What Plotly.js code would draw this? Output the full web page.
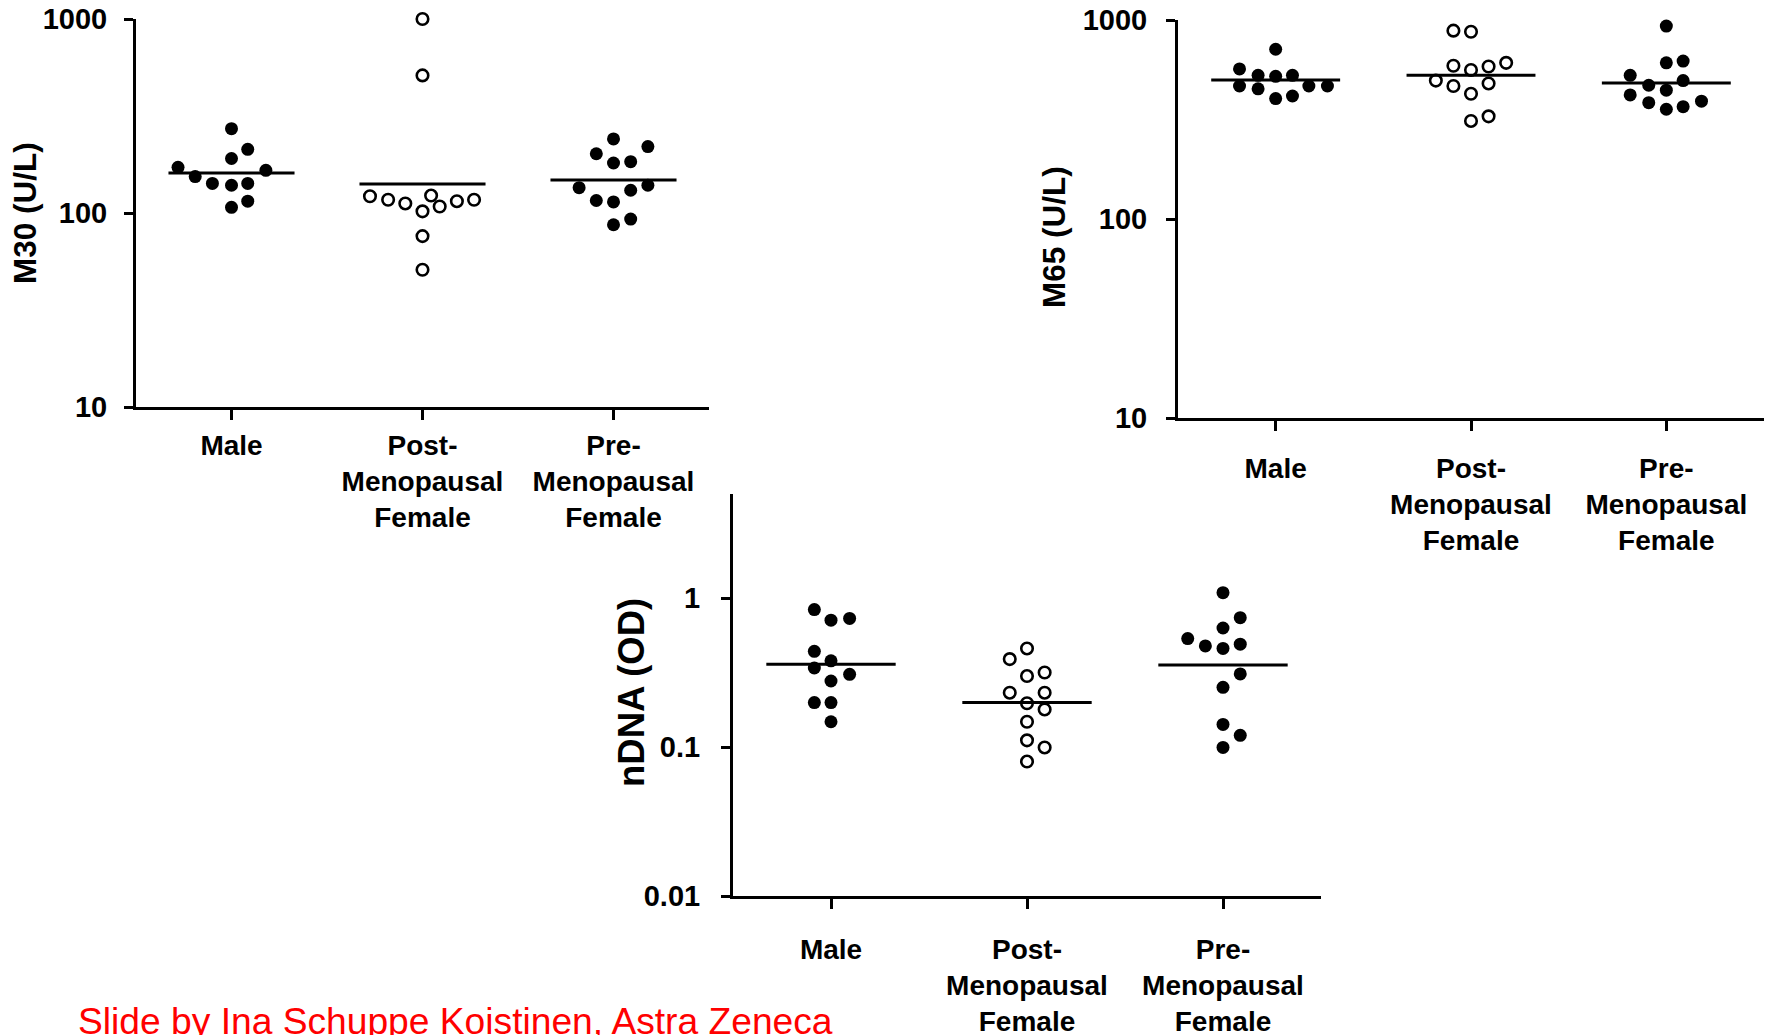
<!DOCTYPE html>
<html>
<head>
<meta charset="utf-8">
<script src="https://cdn.plot.ly/plotly-3.0.1.min.js"></script>
<style>html,body{margin:0;padding:0;background:#fff;}#chart{width:1773px;height:1035px;}</style>
</head>
<body>
<div id="chart"></div>
<script>
// ---- data ----
const categories = ["Male", "Post-<br>Menopausal<br>Female", "Pre-<br>Menopausal<br>Female"];

// M30 (U/L)
const maleM30 = [272, 213, 191, 172, 154, 166, 142, 139, 142, 107, 115];
const maleM30Jitter = [0, 0.085, 0, -0.28, -0.19, 0.18, -0.1, 0, 0.085, 0, 0.085];
const postM30 = [1000, 512, 122, 117, 112, 123, 102, 108, 115, 117, 76, 51];
const postM30Jitter = [0, 0, -0.275, -0.18, -0.09, 0.045, 0, 0.09, 0.18, 0.27, 0, 0];
const preM30 = [241, 202, 220, 181, 184, 135, 139, 131, 116, 114, 93, 87];
const preM30Jitter = [0, -0.09, 0.18, 0, 0.09, -0.18, 0.18, 0.09, -0.09, 0, 0.09, 0];
const meanM30 = [161, 141, 148];

// M65 (U/L)
const maleM65 = [713, 568, 527, 521, 527, 466, 451, 466, 466, 403, 415];
const maleM65Jitter = [0, -0.185, -0.09, 0, 0.086, -0.185, -0.09, 0.17, 0.265, 0, 0.086];
const postM65 = [884, 873, 589, 561, 584, 609, 496, 466, 480, 426, 328, 311];
const postM65Jitter = [-0.09, 0, -0.09, 0, 0.09, 0.18, -0.18, -0.09, 0.09, 0, 0.09, 0];
const preM65 = [932, 609, 622, 527, 470, 496, 444, 420, 384, 356, 367, 391];
const preM65Jitter = [0, 0, 0.086, -0.185, -0.09, 0.086, 0, -0.185, -0.09, 0, 0.086, 0.18];
const meanM65 = [500, 527, 482];

// nDNA (OD)
const maleDNA = [0.839, 0.712, 0.732, 0.440, 0.380, 0.340, 0.308, 0.278, 0.199, 0.199, 0.148];
const maleDNAJitter = [-0.085, 0, 0.095, -0.085, 0, -0.085, 0.095, 0, -0.085, 0, 0];
const postDNA = [0.460, 0.390, 0.300, 0.317, 0.232, 0.232, 0.197, 0.179, 0.148, 0.111, 0.0995, 0.080];
const postDNAJitter = [0, -0.088, 0, 0.09, -0.088, 0.09, 0, 0.09, 0, 0, 0.09, 0];
const preDNA = [1.09, 0.740, 0.631, 0.536, 0.478, 0.460, 0.491, 0.310, 0.252, 0.142, 0.120, 0.0995];
const preDNAJitter = [0, 0.088, 0, -0.18, -0.09, 0, 0.088, 0.088, 0, 0, 0.088, 0];
const meanDNA = [0.360, 0.199, 0.356];

const m30Ticks = [10, 100, 1000];
const m30TickText = ["10", "100", "1000"];
const dnaTicks = [0.01, 0.1, 1];
const dnaTickText = ["0.01", "0.1", "1"];

const yTitles = ["M30 (U/L)", "M65 (U/L)", "nDNA (OD)"];
const credit = "Slide by Ina Schuppe Koistinen, Astra Zeneca";

// ---- build ----
const W = 1773, H = 1035;
const FONT = "Liberation Sans, Arial, sans-serif";
const px = v => v / W;
const py = v => 1 - v / H;

function groupTrace(vals, jit, idx, open, xa, ya) {
  return {
    type: "scatter", mode: "markers", xaxis: xa, yaxis: ya,
    x: vals.map((v, i) => idx + jit[i]), y: vals,
    cliponaxis: false, showlegend: false, hoverinfo: "y",
    marker: open
      ? {symbol: "circle", size: 11.5, color: "#ffffff", line: {color: "#000", width: 2.6}}
      : {symbol: "circle", size: 13, color: "#000", line: {width: 0}}
  };
}
function meanTrace(means, xa, ya) {
  const x = [], y = [];
  means.forEach((m, i) => { x.push(i - 0.33, i + 0.33, null); y.push(m, m, null); });
  return {type: "scatter", mode: "lines", xaxis: xa, yaxis: ya, x, y,
    line: {color: "#000", width: 3}, showlegend: false, hoverinfo: "skip", cliponaxis: false};
}

const traces = [
  groupTrace(maleM30, maleM30Jitter, 0, false, "x", "y"),
  groupTrace(postM30, postM30Jitter, 1, true, "x", "y"),
  groupTrace(preM30, preM30Jitter, 2, false, "x", "y"),
  meanTrace(meanM30, "x", "y"),
  groupTrace(maleM65, maleM65Jitter, 0, false, "x2", "y2"),
  groupTrace(postM65, postM65Jitter, 1, true, "x2", "y2"),
  groupTrace(preM65, preM65Jitter, 2, false, "x2", "y2"),
  meanTrace(meanM65, "x2", "y2"),
  groupTrace(maleDNA, maleDNAJitter, 0, false, "x3", "y3"),
  groupTrace(postDNA, postDNAJitter, 1, true, "x3", "y3"),
  groupTrace(preDNA, preDNAJitter, 2, false, "x3", "y3"),
  meanTrace(meanDNA, "x3", "y3"),
];

const xTickFont = {family: FONT, size: 28, color: "#000", weight: "bold"};
const yTickFont = {family: FONT, size: 29, color: "#000", weight: "bold"};
function xAxis(d0, d1, anchor, standoff) {
  return {domain: [px(d0), px(d1)], anchor, range: [-0.5, 2.5], tickmode: "array",
    tickvals: [0, 1, 2], ticktext: categories, showline: true, linecolor: "#000", linewidth: 3,
    ticks: "outside", ticklen: 10, tickwidth: 3, tickcolor: "#000", showgrid: false, zeroline: false,
    tickfont: xTickFont, ticklabelstandoff: standoff, fixedrange: true};
}
function yAxis(top, bottom, anchor, range, tv, tt, standoff) {
  return {domain: [py(bottom), py(top)], anchor, type: "log", range, tickmode: "array",
    tickvals: tv, ticktext: tt, showline: true, linecolor: "#000", linewidth: 3,
    ticks: "outside", ticklen: 9, tickwidth: 3, tickcolor: "#000", showgrid: false, zeroline: false,
    tickfont: yTickFont, ticklabelstandoff: standoff, fixedrange: true};
}

const layout = {
  width: W, height: H, margin: {l: 0, r: 0, t: 0, b: 0},
  paper_bgcolor: "#fff", plot_bgcolor: "#fff", showlegend: false,
  font: {family: FONT, color: "#000"},
  xaxis: xAxis(136, 709, "y", 1),
  yaxis: yAxis(19, 407, "x", [1, 3], m30Ticks, m30TickText, 11),
  xaxis2: xAxis(1178, 1764, "y2", 13),
  yaxis2: yAxis(20, 418, "x2", [1, 3], m30Ticks, m30TickText, 13),
  xaxis3: xAxis(733, 1321, "y3", 16),
  yaxis3: yAxis(494, 896, "x3", [-2, 0.70], dnaTicks, dnaTickText, 15),
  annotations: [
    {text: yTitles[0], x: px(25), y: py(213), xref: "paper", yref: "paper", textangle: -90,
      showarrow: false, xanchor: "center", yanchor: "middle", font: {family: FONT, size: 31.5, weight: "bold"}},
    {text: yTitles[1], x: px(1054), y: py(237), xref: "paper", yref: "paper", textangle: -90,
      showarrow: false, xanchor: "center", yanchor: "middle", font: {family: FONT, size: 31.5, weight: "bold"}},
    {text: yTitles[2], x: px(631), y: py(693), xref: "paper", yref: "paper", textangle: -90,
      showarrow: false, xanchor: "center", yanchor: "middle", font: {family: FONT, size: 36.5, weight: "bold"}},
    {text: credit, x: px(76), y: py(1021), xref: "paper", yref: "paper",
      showarrow: false, xanchor: "left", yanchor: "middle", font: {family: FONT, size: 37.2, color: "#ff0000"}}
  ]
};

Plotly.newPlot("chart", traces, layout, {displayModeBar: false, staticPlot: true});
</script>
</body>
</html>
